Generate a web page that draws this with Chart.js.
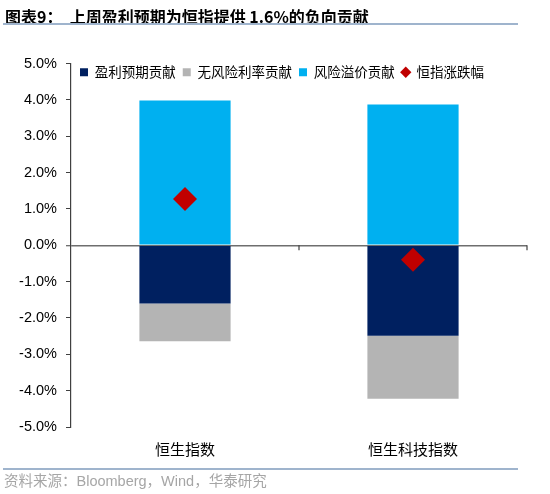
<!DOCTYPE html>
<html>
<head>
<meta charset="utf-8">
<script src="https://cdn.jsdelivr.net/npm/chart.js@4.4.1/dist/chart.umd.min.js"></script>
<style>
  html, body { margin: 0; padding: 0; background: #fff; }
  #wrap { position: relative; width: 550px; height: 494px; }
  #box { position: absolute; left: 0; top: 0; width: 550px; height: 494px; }
  .title {
    position: absolute; left: 5px; top: 4px; line-height: 20px;
    font: bold 16px "Noto Sans CJK SC", "Liberation Sans", sans-serif;
    color: #000; white-space: pre;
  }
  .rule { position: absolute; left: 3px; width: 515px; background: #9fb4cd; }
  .source {
    position: absolute; left: 4px; top: 469px; line-height: 20px;
    font: 14.5px "Liberation Sans", "Noto Sans CJK SC", sans-serif;
    color: #a6a6a6; white-space: pre;
  }
</style>
</head>
<body>
<div id="wrap">
  <div id="box"><canvas id="graph"></canvas></div>
  <div class="title">图表9：  上周盈利预期为恒指提供 1.6%的负向贡献</div>
  <div class="rule" style="top:22.5px;height:2px;"></div>
  <div class="rule" style="top:468px;height:1.5px;"></div>
  <div class="source">资料来源：Bloomberg，Wind，华泰研究</div>
</div>
<script>
const labels = ['恒生指数', '恒生科技指数'];
const earnings = [-1.60, -2.49];     // 盈利预期贡献
const riskFree = [-1.04, -1.73];     // 无风险利率贡献
const riskPremium = [3.98, 3.87];    // 风险溢价贡献
const indexMove = [1.27, -0.40];     // 恒指涨跌幅
const yTicks = [-5, -4, -3, -2, -1, 0, 1, 2, 3, 4, 5];

// small ticks on the zero line at category boundaries
const zeroTicks = {
	id: 'zeroTicks',
	afterDatasetsDraw(chart) {
		const x = chart.scales.x, y = chart.scales.y;
		const y0 = y.getPixelForValue(0);
		const ctx = chart.ctx;
		ctx.save();
		ctx.strokeStyle = '#404040';
		ctx.lineWidth = 1.2;
		for (let i = 1; i <= labels.length; i++) {
			const px = x.getPixelForValue(i - 0.5);
			ctx.beginPath();
			ctx.moveTo(px, y0);
			ctx.lineTo(px, y0 + 5);
			ctx.stroke();
		}
		ctx.restore();
	}
};

// the legend sits inside the plot area, at its top left
const legendInside = {
	id: 'legendInside',
	afterLayout(chart) {
		const lg = chart.legend, area = chart.chartArea;
		const h = lg.height;
		lg.left = area.left + 2;
		lg.right = area.right;
		lg.top = area.top - 5;
		lg.bottom = lg.top + h;
	}
};

const ctx = document.getElementById('graph');

const myChart = new Chart(ctx, {
	data: {
		labels: labels,
		datasets: [{
			type: 'bar',
			label: '盈利预期贡献',
			data: earnings,
			backgroundColor: '#002060',
			order: 1,
		}, {
			type: 'bar',
			label: '无风险利率贡献',
			data: riskFree,
			backgroundColor: '#b4b4b4',
			order: 1,
		}, {
			type: 'bar',
			label: '风险溢价贡献',
			data: riskPremium,
			backgroundColor: '#00b0f0',
			order: 1,
		}, {
			type: 'line',
			label: '恒指涨跌幅',
			data: indexMove,
			stack: 'marker',
			showLine: false,
			pointStyle: 'rectRot',
			pointRadius: 12,
			pointHoverRadius: 12,
			pointBorderWidth: 0,
			borderColor: '#c00000',
			backgroundColor: '#c00000',
			order: 0,
		}]
	},
	options: {
		responsive: true,
		maintainAspectRatio: false,
		animation: false,
		layout: {
			padding: { top: 33, right: 23, bottom: 0, left: 0 }
		},
		datasets: {
			bar: {
				barPercentage: 0.4,
				categoryPercentage: 1,
				borderWidth: 0,
			}
		},
		scales: {
			x: {
				stacked: true,
				grid: { display: false, drawTicks: false },
				border: { display: false },
				ticks: {
					color: '#000',
					padding: 13,
					font: { family: '"Noto Sans CJK SC"', size: 15 }
				},
				afterFit: function (scale) {
					scale.height = 67;
				}
			},
			y: {
				stacked: true,
				min: -5,
				max: 5,
				afterBuildTicks: function (scale) {
					scale.ticks = yTicks.map(v => ({ value: v }));
				},
				grid: {
					drawOnChartArea: true,
					color: c => (c.tick && c.tick.value === 0) ? '#6e6e6e' : 'rgba(0,0,0,0)',
					lineWidth: c => (c.tick && c.tick.value === 0) ? 1.5 : 1,
					tickColor: '#404040',
					tickWidth: 1,
					tickLength: 5,
				},
				border: { color: '#404040', width: 1.2 },
				ticks: {
					color: '#000',
					padding: 9,
					font: { family: '"Liberation Sans"', size: 14.5 },
					callback: function (value) {
						return value.toFixed(1) + '%';
					}
				},
				afterFit: function (scale) {
					scale.width = 71;
				}
			}
		},
		plugins: {
			legend: {
				position: 'top',
				align: 'start',
				labels: {
					color: '#000',
					usePointStyle: true,
					boxWidth: 8,
					boxHeight: 8,
					padding: 7,
					font: { family: '"Noto Sans CJK SC"', size: 13.5 },
					sort: (a, b) => a.datasetIndex - b.datasetIndex,
					generateLabels: function (chart) {
						const items = Chart.defaults.plugins.legend.labels.generateLabels(chart);
						items.forEach(item => {
							item.pointStyle = item.datasetIndex === 3 ? 'rectRot' : 'rect';
							item.lineWidth = 0;
							item.strokeStyle = 'rgba(0,0,0,0)';
						});
						return items;
					}
				}
			},
			tooltip: { enabled: false }
		}
	},
	plugins: [zeroTicks, legendInside]
});
</script>
</body>
</html>
